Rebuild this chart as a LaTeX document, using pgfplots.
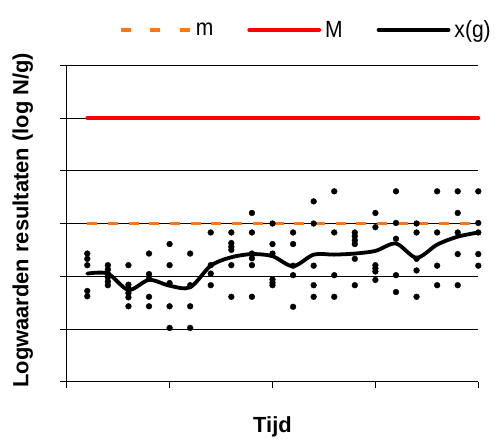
\documentclass[border=0pt]{standalone}
\usepackage{fontspec}
\setmainfont{Liberation Sans}
\newfontfamily\legfont[FakeStretch=0.9]{Liberation Sans}
\usepackage{pgfplots}
\usepackage{pgfplotstable}
\pgfplotsset{compat=1.18}
\definecolor{morange}{RGB}{255,118,20}
\pgfplotstableread{
x y
1 2.43
1 2.33
1 2.21
1 1.72
1 1.62
2 2.21
2 2.13
2 2.05
2 1.98
2 1.90
2 1.83
3 2.21
3 1.84
3 1.77
3 1.68
3 1.60
3 1.43
4 2.43
4 2.04
4 1.95
4 1.61
4 1.43
5 2.61
5 2.21
5 1.87
5 1.43
5 1.02
6 2.43
6 1.83
6 1.43
6 1.02
7 2.83
7 2.21
7 2.05
7 1.83
8 2.83
8 2.63
8 2.56
8 2.50
8 2.21
8 1.61
9 3.20
9 2.83
9 2.43
9 2.34
9 2.21
9 1.61
10 3.00
10 2.61
10 2.43
10 1.94
10 1.88
10 1.83
11 2.83
11 2.61
11 2.20
11 2.02
11 1.42
12 3.42
12 3.00
12 2.20
12 1.83
12 1.61
13 3.61
13 2.83
13 2.02
13 1.61
14 2.83
14 2.76
14 2.68
14 2.61
14 2.33
14 1.83
15 3.20
15 2.93
15 2.21
15 2.15
15 2.09
15 1.93
16 3.61
16 3.01
16 2.71
16 2.02
16 1.70
17 3.00
17 2.83
17 2.33
17 2.11
17 1.61
18 3.61
18 2.83
18 2.20
18 1.83
19 3.61
19 3.20
19 2.83
19 2.42
19 1.83
20 3.61
20 3.01
20 2.83
20 2.42
20 2.20
}\points
\pgfplotstableread{
x y
1 2.05
2 2.05
3 1.74
4 1.93
5 1.82
6 1.79
7 2.20
8 2.36
9 2.42
10 2.38
11 2.19
12 2.41
13 2.41
14 2.43
15 2.48
16 2.62
17 2.35
18 2.60
19 2.75
20 2.83
}\xg
\begin{document}
\begin{tikzpicture}
\useasboundingbox (0,0) rectangle (497bp,441bp);
\begin{axis}[
  at={(66.7bp,59.3bp)}, anchor=south west,
  scale only axis, width=411.6bp, height=316.4bp,
  xmin=0, xmax=20, ymin=0, ymax=6,
  axis x line=bottom, axis y line=left,
  axis line style={-, line width=0.8pt},
  xtick={0,5,10,15,20}, ytick={0,1,2,3,4,5,6},
  xticklabels={}, yticklabels={},
  tick align=outside, major tick length=6.7bp,
  tick style={black, line width=0.8pt},
  ymajorgrids, grid style={black, line width=0.8pt},
  clip=false,
  xlabel={Tijd}, ylabel={Logwaarden resultaten (log N/g)},
  label style={font=\bfseries\fontsize{22}{26}\selectfont},
  xlabel style={at={(rel axis cs:0.5,-0.162)}, anchor=base},
  ylabel style={at={(rel axis cs:-0.107,0.51)}, anchor=center, rotate=0},
  legend style={at={(rel axis cs:0.127,1.112)}, anchor=west, draw=none, fill=none,
    inner sep=0pt, outer sep=0pt,
    font=\legfont\fontsize{23.5}{27}\selectfont,
    /tikz/every even column/.append style={column sep=30bp},
    nodes={inner xsep=4bp, inner ysep=0pt}},
  legend columns=3,
]
\addplot[morange, line width=3.8bp, line cap=butt, dash pattern=on 10bp off 10.7bp,
  legend image code/.code={\draw[morange, line width=3.8bp, dash pattern=on 10bp off 19.5bp] (0bp,0bp) -- (69bp,0bp);}]
  coordinates {(1,3) (20,3)};
\addlegendentry{m}
\addplot[red, line width=3.8bp, line cap=round,
  legend image code/.code={\draw[red, line width=3.8bp, line cap=round] (0bp,0bp) -- (70bp,0bp);}]
  coordinates {(1,5) (20,5)};
\addlegendentry{M}
\addplot[only marks, mark=*, mark size=2.9bp, black, forget plot] table[x=x, y=y] {\points};
\addplot[black, line width=3.8bp, line cap=round, line join=round, smooth,
  legend image code/.code={\draw[black, line width=3.8bp, line cap=round] (0bp,0bp) -- (70bp,0bp);}]
  table[x=x, y=y] {\xg};
\addlegendentry{x(g)}
\end{axis}
\end{tikzpicture}
\end{document}
